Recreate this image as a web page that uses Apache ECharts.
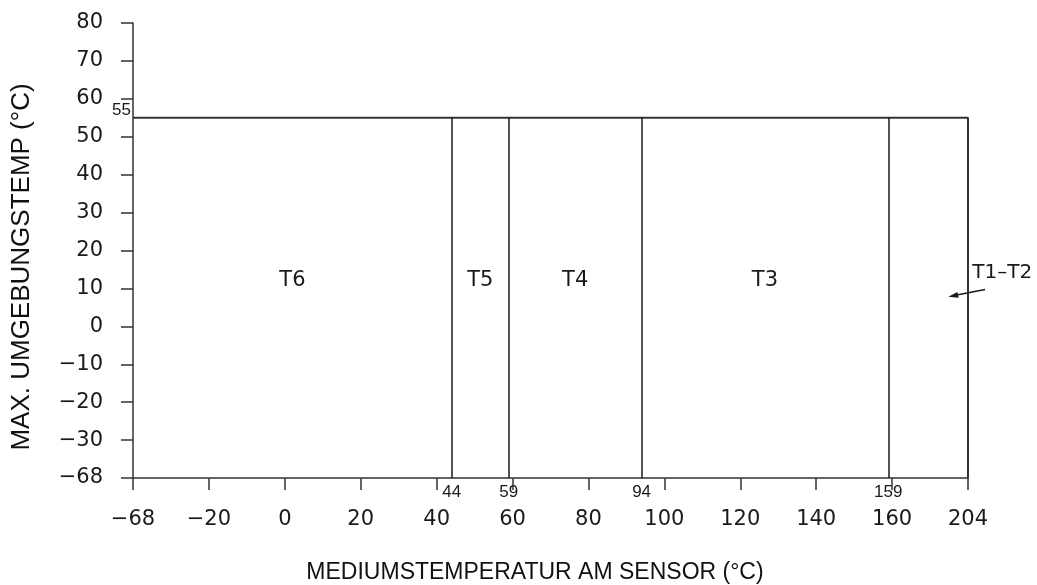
<!DOCTYPE html>
<html>
<head>
<meta charset="utf-8">
<title>Temperaturklassen</title>
<script src="https://cdn.jsdelivr.net/npm/echarts@6/dist/echarts.min.js"></script>
<style>
  html, body { margin: 0; padding: 0; background: #fff; }
  #chart { width: 1037px; height: 585px; }
</style>
</head>
<body>
<div id="chart"></div>
<script>
// Axis ticks (the outermost ticks stand for the broken ends of the range)
const xTickValues = [-40, -20, 0, 20, 40, 60, 80, 100, 120, 140, 160, 180];
const xTickLabels = ['−68', '−20', '0', '20', '40', '60', '80', '100', '120', '140', '160', '204'];
const yTickValues = [-40, -30, -20, -10, 0, 10, 20, 30, 40, 50, 60, 70, 80];
const yTickLabels = ['−68', '−30', '−20', '−10', '0', '10', '20', '30', '40', '50', '60', '70', '80'];

// Maximum ambient temperature and the medium temperature limits between classes
const ambientLimit = 55;
const classBounds = [44, 59, 94, 159];
const classNames = ['T6', 'T5', 'T4', 'T3'];
const outerClassName = 'T1–T2';

const xMin = xTickValues[0], xMax = xTickValues[xTickValues.length - 1];
const yMin = yTickValues[0], yMax = yTickValues[yTickValues.length - 1];

const tickFont = 'DejaVu Sans, sans-serif';
const titleFont = 'Liberation Sans, Arial, sans-serif';
const ink = '#1a1a1a';

// Class name positions: centre of each class band
const edges = [xMin].concat(classBounds);
const classLabelY = 12;
const classLabelData = classNames.map((n, i) => ({
  value: [(edges[i] + edges[i + 1]) / 2, classLabelY],
  name: n
}));

const chart = echarts.init(document.getElementById('chart'), null, { renderer: 'canvas' });

const lineStyleDark = { color: '#1a1a1a', width: 1.5, type: 'solid' };
const labelItem = { opacity: 1 };

chart.setOption({
  animation: false,
  backgroundColor: '#fff',
  grid: { left: 133, right: 69, top: 23, bottom: 107, containLabel: false },
  xAxis: {
    type: 'value', min: xMin, max: xMax, interval: 20,
    axisLine: { onZero: false, lineStyle: { color: '#333', width: 1.5 } },
    axisTick: { length: 12, lineStyle: { color: '#333', width: 1.5 } },
    splitLine: { show: false },
    axisLabel: {
      margin: 31, color: ink, fontFamily: tickFont, fontSize: 21,
      formatter: v => xTickLabels[xTickValues.indexOf(v)]
    }
  },
  yAxis: {
    type: 'value', min: yMin, max: yMax, interval: 10,
    axisLine: { show: true, onZero: false, lineStyle: { color: '#333', width: 1.5 } },
    axisTick: { show: true, length: 12, lineStyle: { color: '#333', width: 1.5 } },
    splitLine: { show: false },
    axisLabel: {
      margin: 30, color: ink, fontFamily: tickFont, fontSize: 21,
      formatter: v => yTickLabels[yTickValues.indexOf(v)]
    }
  },
  series: [
    {
      // upper envelope: ambient limit and the end of the medium range
      type: 'line', symbol: 'none', silent: true,
      data: [[xMin, ambientLimit], [xMax, ambientLimit], [xMax, yMin]],
      lineStyle: { color: '#333', width: 2 },
      markLine: {
        symbol: 'none', silent: true,
        lineStyle: lineStyleDark,
        label: { show: false },
        data: classBounds.map(b => [{ coord: [b, yMin] }, { coord: [b, ambientLimit] }])
      },
      z: 3
    },
    {
      // value labels for the class limits along the x axis
      type: 'scatter', symbolSize: 0, silent: true, itemStyle: labelItem,
      data: classBounds.map(b => ({ value: [b, yMin], name: String(b) })),
      label: {
        show: true, position: 'bottom', distance: 6, opacity: 1,
        formatter: p => p.name,
        color: ink, fontFamily: titleFont, fontSize: 17
      }
    },
    {
      // value label of the ambient limit
      type: 'scatter', symbolSize: 0, silent: true, itemStyle: labelItem,
      data: [{ value: [xMin, ambientLimit], name: String(ambientLimit) }],
      label: {
        show: true, position: 'left', distance: 2, offset: [0, -7], opacity: 1,
        formatter: p => p.name,
        color: ink, fontFamily: titleFont, fontSize: 17
      }
    },
    {
      // temperature class names
      type: 'scatter', symbolSize: 0, silent: true, itemStyle: labelItem,
      data: classLabelData,
      label: {
        show: true, position: 'inside', opacity: 1,
        formatter: p => p.name,
        color: ink, fontFamily: tickFont, fontSize: 21
      }
    }
  ]
});

// Annotation for the classes beyond the drawn range, placed via the axes
const labelPt = chart.convertToPixel({ gridIndex: 0 }, [189, 14]);
const arrowFrom = chart.convertToPixel({ gridIndex: 0 }, [184.5, 9.7]);
const arrowTo = chart.convertToPixel({ gridIndex: 0 }, [174.8, 7.8]);
const dx = arrowTo[0] - arrowFrom[0], dy = arrowTo[1] - arrowFrom[1];
const len = Math.hypot(dx, dy), ux = dx / len, uy = dy / len;
const headLen = 10, headHalf = 3;
const base = [arrowTo[0] - ux * headLen, arrowTo[1] - uy * headLen];

chart.setOption({
  graphic: [
    {
      type: 'text', x: labelPt[0], y: labelPt[1],
      style: {
        text: outerClassName, fill: ink, font: '20px ' + tickFont,
        textAlign: 'center', textVerticalAlign: 'middle'
      }
    },
    {
      type: 'line',
      shape: { x1: arrowFrom[0], y1: arrowFrom[1], x2: base[0], y2: base[1] },
      style: { stroke: '#1a1a1a', lineWidth: 1.5 }
    },
    {
      type: 'polygon',
      shape: {
        points: [
          arrowTo,
          [base[0] - uy * headHalf, base[1] + ux * headHalf],
          [base[0] + uy * headHalf, base[1] - ux * headHalf]
        ]
      },
      style: { fill: '#1a1a1a' }
    },
    {
      type: 'text', x: 535, y: 573,
      style: {
        text: 'MEDIUMSTEMPERATUR AM SENSOR (°C)', fill: '#111',
        font: '23px ' + titleFont, textAlign: 'center', textVerticalAlign: 'middle'
      }
    },
    {
      type: 'text', x: 22, y: 267, rotation: Math.PI / 2,
      style: {
        text: 'MAX. UMGEBUNGSTEMP (°C)', fill: '#111',
        font: '26px ' + titleFont, textAlign: 'center', textVerticalAlign: 'middle'
      }
    }
  ]
});
</script>
</body>
</html>
